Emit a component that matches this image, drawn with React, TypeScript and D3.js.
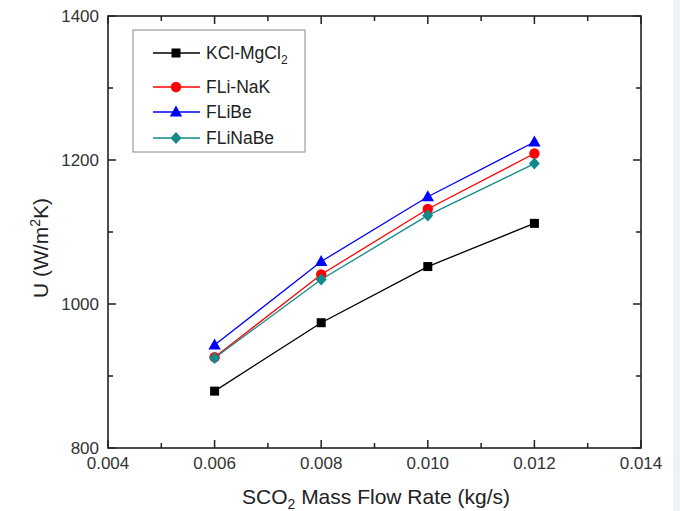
import React from "react";
import * as d3 from "d3";

const flowRates = [0.006, 0.008, 0.01, 0.012];
const kclMgcl2 = [879, 974, 1052, 1112];
const fliNak = [926, 1041, 1132, 1209];
const flibe = [943, 1059, 1149, 1225];
const flinabe = [925, 1034, 1123, 1195];
const seriesNames = ["KCl-MgCl2", "FLi-NaK", "FLiBe", "FLiNaBe"];
const xTicks = [0.004, 0.006, 0.008, 0.01, 0.012, 0.014];
const xMinor = [0.005, 0.007, 0.009, 0.011, 0.013];
const yTicks = [800, 1000, 1200, 1400];
const yMinor = [900, 1100, 1300];

const W = 680, H = 511;
const L = 108, R = 641, T = 16, B = 448;

export default function App() {
  const x = d3.scaleLinear().domain([0.004, 0.014]).range([L, R]);
  const y = d3.scaleLinear().domain([800, 1400]).range([B, T]);
  const series = [
    { name: seriesNames[0], values: kclMgcl2, color: "#000000", marker: "square" },
    { name: seriesNames[1], values: fliNak, color: "#ff0000", marker: "circle" },
    { name: seriesNames[2], values: flibe, color: "#0000ff", marker: "triangle" },
    { name: seriesNames[3], values: flinabe, color: "#118a8a", marker: "diamond" },
  ];
  const line = d3.line<number>().x((_, i) => x(flowRates[i])).y((d) => y(d));
  const font = "Liberation Sans, Arial, sans-serif";

  const marker = (type: string, cx: number, cy: number, color: string, key: string) => {
    if (type === "square") return <rect key={key} x={cx - 4.5} y={cy - 4.5} width={9} height={9} fill={color} />;
    if (type === "circle") return <circle key={key} cx={cx} cy={cy} r={5.2} fill={color} />;
    if (type === "triangle") return <path key={key} d={`M${cx},${cy - 6.5}L${cx + 6.2},${cy + 4.5}L${cx - 6.2},${cy + 4.5}Z`} fill={color} />;
    return <path key={key} d={`M${cx},${cy - 6}L${cx + 5.5},${cy}L${cx},${cy + 6}L${cx - 5.5},${cy}Z`} fill={color} />;
  };

  const legendRows = [53, 87, 112, 138];
  const tickColor = "#222";

  return (
    <svg width={W} height={H} style={{ position: "absolute", left: 0, top: 0 }} fontFamily={font}>
      <rect x={0} y={0} width={W} height={H} fill="#ffffff" />
      <rect x={673} y={0} width={7} height={H} fill="#eef1f6" />
      {xTicks.map((t) => (
        <g key={"xt" + t}>
          <line x1={x(t)} x2={x(t)} y1={B} y2={B - 8} stroke={tickColor} strokeWidth={1.5} />
          <line x1={x(t)} x2={x(t)} y1={T} y2={T + 8} stroke={tickColor} strokeWidth={1.5} />
          <text x={x(t)} y={469} textAnchor="middle" fontSize={17} fill="#333">{t.toFixed(3)}</text>
        </g>
      ))}
      {xMinor.map((t) => (
        <g key={"xm" + t}>
          <line x1={x(t)} x2={x(t)} y1={B} y2={B - 5} stroke={tickColor} strokeWidth={1.5} />
          <line x1={x(t)} x2={x(t)} y1={T} y2={T + 5} stroke={tickColor} strokeWidth={1.5} />
        </g>
      ))}
      {yTicks.map((t) => (
        <g key={"yt" + t}>
          <line x1={L} x2={L + 8} y1={y(t)} y2={y(t)} stroke={tickColor} strokeWidth={1.5} />
          <line x1={R} x2={R - 8} y1={y(t)} y2={y(t)} stroke={tickColor} strokeWidth={1.5} />
          <text x={99} y={y(t) + 5.5} textAnchor="end" fontSize={17} fill="#333">{t}</text>
        </g>
      ))}
      {yMinor.map((t) => (
        <g key={"ym" + t}>
          <line x1={L} x2={L + 5} y1={y(t)} y2={y(t)} stroke={tickColor} strokeWidth={1.5} />
          <line x1={R} x2={R - 5} y1={y(t)} y2={y(t)} stroke={tickColor} strokeWidth={1.5} />
        </g>
      ))}
      <rect x={L} y={T} width={R - L} height={B - T} fill="none" stroke={tickColor} strokeWidth={1.6} />
      {series.map((s) => (
        <path key={s.name} d={line(s.values) || ""} fill="none" stroke={s.color} strokeWidth={1.3} />
      ))}
      {series.map((s) =>
        s.values.map((v, i) => marker(s.marker, x(flowRates[i]), y(v), s.color, s.name + i))
      )}
      <rect x={133} y={30} width={172} height={122} fill="#fff" stroke="#888" strokeWidth={1} />
      {series.map((s, i) => (
        <g key={"lg" + s.name}>
          <line x1={153} x2={200} y1={legendRows[i]} y2={legendRows[i]} stroke={s.color} strokeWidth={1.3} />
          {marker(s.marker, 176, legendRows[i], s.color, "lm" + i)}
          <text x={206} y={legendRows[i] + 6} fontSize={17.5} fill="#222">
            {i === 0 ? (
              <>
                KCl-MgCl<tspan fontSize={12} dy={5}>2</tspan>
              </>
            ) : (
              s.name
            )}
          </text>
        </g>
      ))}
      <text x={376} y={504} textAnchor="middle" fontSize={21} fill="#222">
        SCO<tspan fontSize={14} dy={5}>2</tspan>
        <tspan dy={-5}> Mass Flow Rate (kg/s)</tspan>
      </text>
      <text transform={`translate(48,248) rotate(-90)`} textAnchor="middle" fontSize={21} fill="#222">
        U (W/m<tspan fontSize={14} dy={-8}>2</tspan>
        <tspan dy={8}>K)</tspan>
      </text>
    </svg>
  );
}
